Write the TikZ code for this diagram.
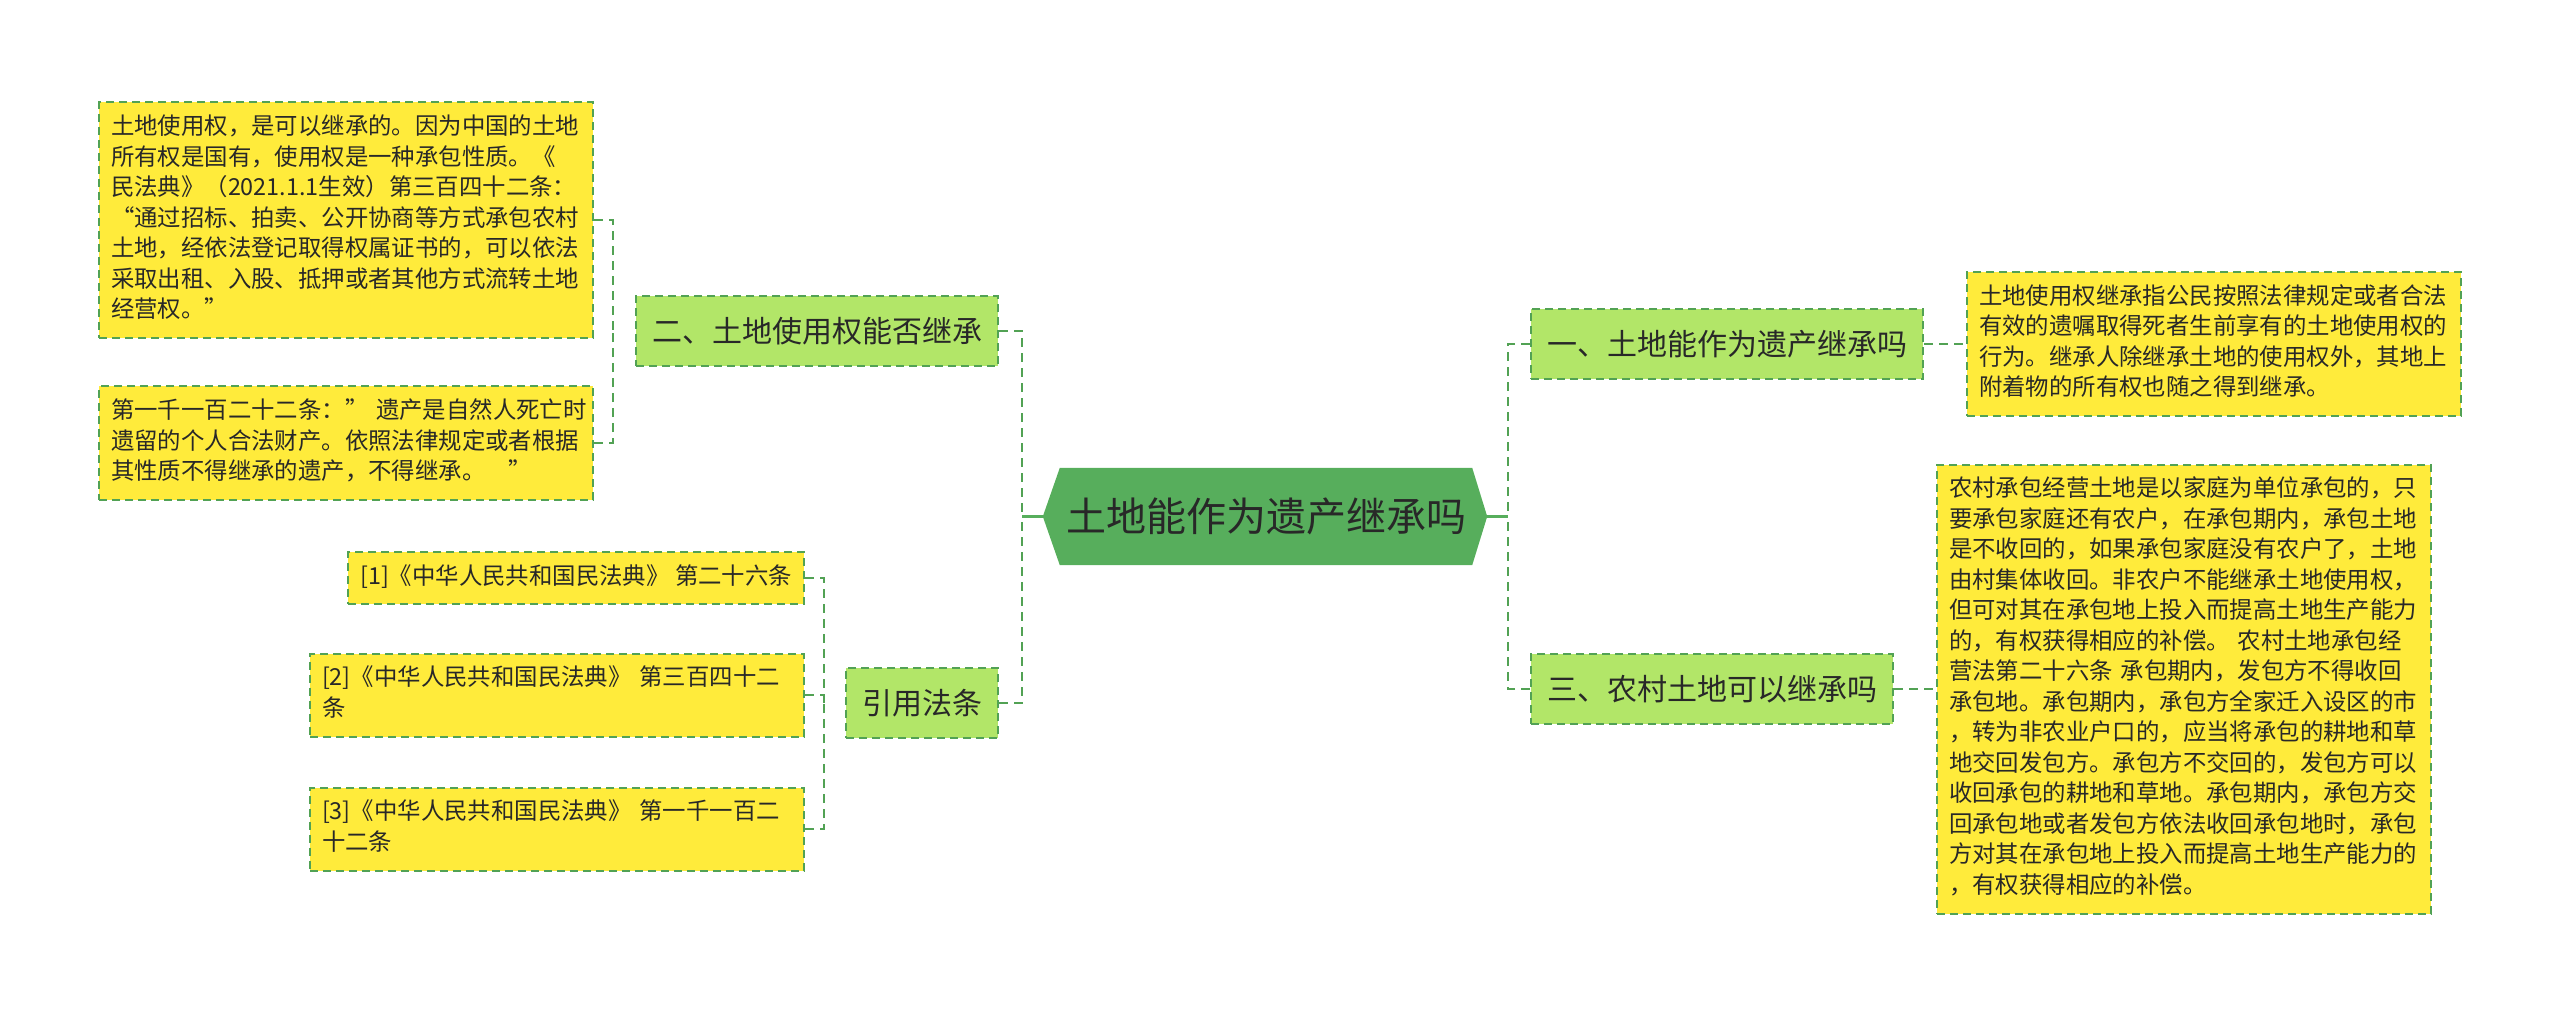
\documentclass[tikz,border=0pt]{standalone}
\usepackage{fontspec}
\setmainfont{Noto Sans CJK SC}
\usepackage{tikz}
\usetikzlibrary{positioning, calc, backgrounds}
\definecolor{RootGreen}{RGB}{87,174,92}
\definecolor{BranchGreen}{RGB}{178,230,104}
\definecolor{LeafYellow}{RGB}{255,235,59}
\definecolor{EdgeGreen}{RGB}{82,162,84}
\definecolor{InkDark}{RGB}{40,40,40}

\begin{document}
\begin{tikzpicture}[x=1pt, y=-1pt,
  link/.style={draw=EdgeGreen, line width=2.5pt, dash pattern=on 9pt off 6pt},
  trunk/.style={draw=RootGreen, line width=3pt},
  branch/.style={fill=BranchGreen, draw=EdgeGreen, line width=2pt,
        dash pattern=on 8pt off 5pt, inner xsep=16pt, minimum height=70pt,
        text=InkDark, font=\fontsize{30pt}{36pt}\selectfont},
  leaf/.style={fill=LeafYellow, draw=EdgeGreen, line width=2pt,
        dash pattern=on 8pt off 5pt, inner xsep=12pt, inner ysep=11pt,
        align=left, text=InkDark, font=\fontsize{23.4pt}{30.5pt}\selectfont,
        execute at begin node=\strut, execute at end node=\strut},
  wide/.style={leaf, text width=470pt}]
  \useasboundingbox (0,0) rectangle (2560,1014);

  % centre topic
  \node[minimum width=412pt, minimum height=97pt, inner sep=0pt, text=InkDark,
        font=\fontsize{40pt}{48pt}\selectfont] (root) at (1266,516.5)
    {土地能作为遗产继承吗};
  \coordinate (rootW) at ([xshift=-17pt]root.west);
  \coordinate (rootE) at ([xshift=15pt]root.east);
  \begin{scope}[on background layer]
    \fill[RootGreen] (root.north west) -- (root.north east) -- (rootE)
      -- (root.south east) -- (root.south west) -- (rootW) -- cycle;
  \end{scope}

  % main branches
  \node[branch, anchor=east] (inherit) at (999,331) {二、土地使用权能否继承};
  \node[branch, anchor=east] (cite) at (999,703) {引用法条};
  \node[branch, anchor=west] (estate) at (1530,344) {一、土地能作为遗产继承吗};
  \node[branch, anchor=west] (rural) at (1530,689) {三、农村土地可以继承吗};

  % left leaves
  \node[wide, anchor=east] (useRight) at (594,220)
    {土地使用权，是可以继承的。因为中国的土地\\
     所有权是国有，使用权是一种承包性质。《\\
     民法典》（2021.1.1生效）第三百四十二条：\\
     “通过招标、拍卖、公开协商等方式承包农村\\
     土地，经依法登记取得权属证书的，可以依法\\
     采取出租、入股、抵押或者其他方式流转土地\\
     经营权。”};
  \node[wide, anchor=east] (article) at (594,443)
    {第一千一百二十二条：”~遗产是自然人死亡时\\
     遗留的个人合法财产。依照法律规定或者根据\\
     其性质不得继承的遗产，不得继承。~~~”};
  \node[leaf, anchor=east] (ref1) at (805,578)
    {[1]《中华人民共和国民法典》~第二十六条};
  \node[wide, anchor=east] (ref2) at (805,695)
    {[2]《中华人民共和国民法典》~第三百四十二\\条};
  \node[wide, anchor=east] (ref3) at (805,829)
    {[3]《中华人民共和国民法典》~第一千一百二\\十二条};

  % right leaves
  \node[wide, anchor=west] (meaning) at (1966,344)
    {土地使用权继承指公民按照法律规定或者合法\\
     有效的遗嘱取得死者生前享有的土地使用权的\\
     行为。继承人除继承土地的使用权外，其地上\\
     附着物的所有权也随之得到继承。};
  \node[wide, anchor=west] (contract) at (1936,689)
    {农村承包经营土地是以家庭为单位承包的，只\\
     要承包家庭还有农户，在承包期内，承包土地\\
     是不收回的，如果承包家庭没有农户了，土地\\
     由村集体收回。非农户不能继承土地使用权，\\
     但可对其在承包地上投入而提高土地生产能力\\
     的，有权获得相应的补偿。~农村土地承包经\\
     营法第二十六条~承包期内，发包方不得收回\\
     承包地。承包期内，承包方全家迁入设区的市\\
     ，转为非农业户口的，应当将承包的耕地和草\\
     地交回发包方。承包方不交回的，发包方可以\\
     收回承包的耕地和草地。承包期内，承包方交\\
     回承包地或者发包方依法收回承包地时，承包\\
     方对其在承包地上投入而提高土地生产能力的\\
     ，有权获得相应的补偿。};

  % connectors
  \coordinate (hubL) at ([xshift=-21pt]rootW);
  \coordinate (hubR) at ([xshift=21pt]rootE);
  \coordinate (hubInherit) at ([xshift=-22pt]inherit.west);
  \coordinate (hubCite) at ([xshift=-21pt]cite.west);
  \draw[trunk] (rootW) -- (hubL);
  \draw[trunk] (rootE) -- (hubR);
  \draw[link] (inherit.east) -| (hubL);
  \draw[link] (cite.east) -| (hubL);
  \draw[link] (estate.west) -| (hubR);
  \draw[link] (rural.west) -| (hubR);
  \draw[link] (useRight.east) -| (hubInherit);
  \draw[link] (article.east) -| (hubInherit);
  \foreach \r in {ref1, ref2, ref3}
    \draw[link] (\r.east) -| (hubCite);
  \draw[link] (estate.east) -- (meaning.west);
  \draw[link] (rural.east) -- (contract.west);
\end{tikzpicture}
\end{document}
